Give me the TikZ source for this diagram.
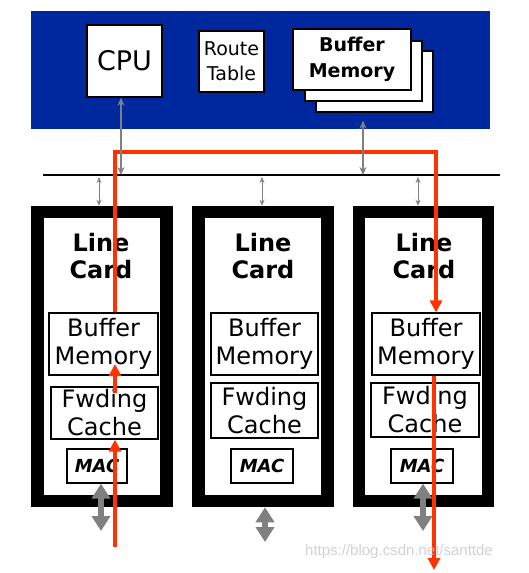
\documentclass[tikz,border=0pt]{standalone}
\usepackage{fontspec}
\setmainfont{DejaVu Sans}
\newfontfamily\wmfont{Liberation Sans}
\usetikzlibrary{arrows.meta}
\definecolor{panelblue}{RGB}{0,40,158}
\definecolor{pathred}{RGB}{255,51,0}
\definecolor{arrgray}{RGB}{128,128,128}
\tikzset{
  panel/.style={fill=panelblue, draw=none, inner sep=0pt},
  wbox/.style={draw=black, fill=white, line width=1.4pt, inner sep=0pt, align=center},
  card/.style={draw=black, fill=white, line width=12.5pt, inner sep=0pt, minimum width=129pt, minimum height=289pt},
  cardtitle/.style={font=\bfseries\fontsize{24}{27}\selectfont, align=center, inner sep=0pt},
  cbox/.style={draw=black, fill=white, line width=1.2pt, inner sep=0pt, align=center, font=\fontsize{24}{28}\selectfont},
  macbox/.style={draw=black, fill=white, line width=1.2pt, inner sep=0pt, minimum width=61pt, minimum height=34pt, font=\bfseries\itshape\fontsize{18}{20}\selectfont},
  thinarr/.style={draw=arrgray, line width=1.5pt, {Stealth[length=8pt,width=7pt]}-{Stealth[length=8pt,width=7pt]}},
  tinyarr/.style={draw=arrgray, line width=0.8pt, {Stealth[length=6pt,width=5pt]}-{Stealth[length=6pt,width=5pt]}},
  fatarr/.style={draw=arrgray, line width=5.5pt, {Triangle[length=15pt,width=18pt]}-{Triangle[length=15pt,width=18pt]}},
  redpath/.style={draw=pathred, line width=3.6pt},
  redarr/.style={draw=pathred, line width=3.6pt, -{Triangle[length=12pt,width=12pt]}},
}
\begin{document}
\begin{tikzpicture}[x=1pt,y=-1pt]
\useasboundingbox (0,0) rectangle (528,573);
% control panel
\node[panel, minimum width=459pt, minimum height=118pt] (ctrl) at (260.5,70) {};
\node[wbox, minimum width=75pt, minimum height=72pt, font=\fontsize{27}{30}\selectfont] (cpu) at (124.5,61) {CPU};
\node[wbox, minimum width=65pt, minimum height=61pt, font=\fontsize{19}{25}\selectfont] (rt) at (231.5,61.5) {Route\\Table};
\node[wbox, minimum width=117pt, minimum height=61pt] (bufC) at (374.5,81.5) {};
\node[wbox, minimum width=117pt, minimum height=60pt] (bufB) at (363.5,71) {};
\node[wbox, minimum width=118pt, minimum height=61pt, font=\bfseries\fontsize{19}{26}\selectfont] (bufA) at (352,59.5) {Buffer\\Memory};
% bus
\coordinate (busL) at (43,175);
\coordinate (busR) at (500,175);
\draw[line width=2.4pt] (busL) -- (busR);
% line cards
\foreach \i/\cx in {1/101.75, 2/263, 3/423.5} {
  \node[card] (card\i) at (\cx,356.5) {};
}
\node[cardtitle] (lc1) at (101,256) {Line\\Card};
\node[cardtitle] (lc2) at (263,256) {Line\\Card};
\node[cardtitle] (lc3) at (424,256) {Line\\Card};
\node[cbox, minimum width=109pt, minimum height=62pt] (bm1) at (103.5,344) {Buffer\\Memory};
\node[cbox, minimum width=107pt, minimum height=62pt] (bm2) at (264.5,344) {Buffer\\Memory};
\node[cbox, minimum width=108pt, minimum height=62pt] (bm3) at (426,344) {Buffer\\Memory};
\node[cbox, minimum width=107pt, minimum height=52pt] (fc1) at (104.5,413) {Fwding\\Cache};
\node[cbox, minimum width=107pt, minimum height=55pt] (fc2) at (264.5,410.5) {Fwding\\Cache};
\node[cbox, minimum width=108pt, minimum height=54pt] (fc3) at (425,410) {Fwding\\Cache};
\node[macbox, minimum width=60pt] (mac1) at (97,466) {MAC};
\node[macbox, minimum width=62pt] (mac2) at (262,466) {MAC};
\node[macbox, minimum width=62pt] (mac3) at (422,466) {MAC};
% external ports
\coordinate (p1) at (101,531);
\coordinate (p2) at (265,542);
\coordinate (p3) at (423,531);
\draw[fatarr] (p1 |- mac1.south) -- (p1);
\draw[fatarr] (p2 |- card2.south) -- (p2);
\draw[fatarr] (p3 |- mac3.south) -- (p3);
% red packet path
\coordinate (in) at (115,547);
\coordinate (r1) at (115,393);
\coordinate (r2) at (115,364);
\coordinate (tl) at (115,152);
\coordinate (tr) at (436,152);
\coordinate (out) at (434,570);
\draw[redarr] (in) -- (in |- fc1.south);
\draw[redarr] (r1) -- (r2);
\draw[redarr] (in |- bm1.north) -- (tl) -- (tr) -- (tr |- bm3.north);
\draw[redarr] (out |- bm3.south) -- (out);
% bus arrows
\coordinate (bc) at (121,175);
\coordinate (bb) at (363,175);
\draw[thinarr] (bc |- cpu.south) -- (bc);
\draw[thinarr, shorten <=8pt] (bb |- bufC.south) -- (bb);
\coordinate (t1) at (99,177);
\coordinate (t2) at (262,177);
\coordinate (t3) at (418,177);
\draw[tinyarr] (t1) -- (t1 |- card1.north);
\draw[tinyarr] (t2) -- (t2 |- card2.north);
\draw[tinyarr] (t3) -- (t3 |- card3.north);
% watermark
\node[font=\wmfont\fontsize{15}{17}\selectfont, text=gray!45, opacity=0.8, anchor=west, inner sep=0pt] (wm) at (305,552) {https://blog.csdn.net/santtde};
\end{tikzpicture}
\end{document}
